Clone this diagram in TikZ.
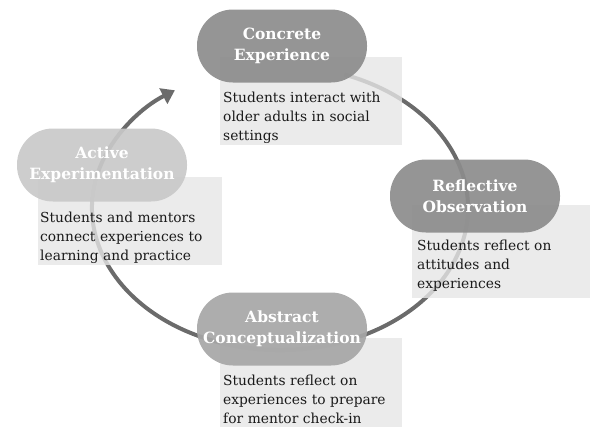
\documentclass[tikz,border=0pt]{standalone}
\usepackage{fontspec}
\setmainfont{DejaVu Serif}
\usetikzlibrary{arrows.meta}
\definecolor{arcgray}{HTML}{6B6B6B}
\definecolor{pilldark}{HTML}{8C8C8C}
\definecolor{pillmid}{HTML}{A6A6A6}
\definecolor{pilllight}{HTML}{C9C9C9}
\definecolor{boxgray}{HTML}{E6E6E6}
\definecolor{txt}{HTML}{1A1A1A}
\begin{document}
\begin{tikzpicture}[x=1pt,y=-1pt,
  pill/.style={draw=none, rounded corners=36pt, minimum width=170pt, minimum height=73pt,
    inner sep=0pt, text=white, align=center, fill opacity=0.92, text opacity=1,
    font=\fontsize{15.5}{21}\selectfont\bfseries},
  descbox/.style={draw=none, fill=boxgray, fill opacity=0.8, inner sep=0pt, anchor=north west},
  desctext/.style={anchor=base west, inner sep=0pt, text=txt, align=left, text width=200pt,
    font=\fontsize{13.8}{19}\selectfont},
  cycle/.style={draw=arcgray, line width=4pt, -{Triangle[length=13pt,width=17pt]}}
]
\useasboundingbox (0,0) rectangle (590,429);
\coordinate (c) at (280,208);
\draw[cycle] ([shift={(-70:188 and 142)}]c) arc[start angle=-70, end angle=236, x radius=188, y radius=142];

\node[descbox, minimum width=182pt, minimum height=88pt] (ceb) at (220,57) {};
\node[descbox, minimum width=178pt, minimum height=93pt] (rob) at (412,205) {};
\node[descbox, minimum width=184pt, minimum height=88pt] (aeb) at (38,177) {};
\node[descbox, minimum width=182pt, minimum height=89pt] (acb) at (220,338) {};

\node[pill, fill=pilldark] (ce) at (282,46) {Concrete\\Experience};
\node[pill, fill=pilldark] (ro) at (475,196) {Reflective\\Observation};
\node[pill, fill=pilllight] (ae) at (102,165) {Active\\Experimentation};
\node[pill, fill=pillmid] (ac) at (282,329) {Abstract\\Conceptualization};

\node[desctext] (cet) at (223,102) {Students interact with\\older adults in social\\settings};
\node[desctext] (rot) at (417,250) {Students reflect on\\attitudes and\\experiences};
\node[desctext] (aet) at (40,222) {Students and mentors\\connect experiences to\\learning and practice};
\node[desctext] (act) at (223,385) {Students reflect on\\experiences to prepare\\for mentor check-in};
\end{tikzpicture}
\end{document}
